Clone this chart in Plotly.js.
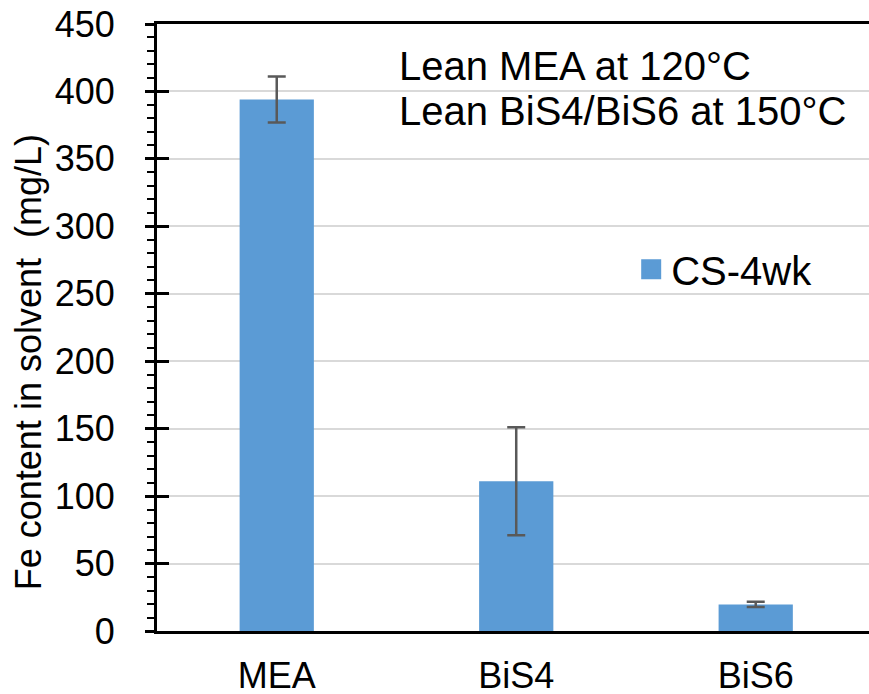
<!DOCTYPE html>
<html>
<head>
<meta charset="utf-8">
<script src="https://cdn.plot.ly/plotly-3.0.1.min.js"></script>
<style>html,body{margin:0;padding:0;background:#fff;}#chart{width:869px;height:694px;}</style>
</head>
<body>
<div id="chart"></div>
<script>
const categories = ["MEA", "BiS4", "BiS6"];
const values = [394, 111, 19.7];
const errors = [17, 40, 2];
const seriesName = "CS-4wk";
const yTicks = [0, 50, 100, 150, 200, 250, 300, 350, 400, 450];
const yTitle = "Fe content in solvent  (mg/L)";
const noteLines = ["Lean MEA at 120°C", "Lean BiS4/BiS6 at 150°C"];

const FONT = "Liberation Sans, Arial, sans-serif";
const barColor = "#5b9bd5";

const traces = [
  {
    type: "bar",
    x: categories,
    y: values,
    width: 0.31,
    name: seriesName,
    showlegend: false,
    marker: {color: barColor},
    error_y: {type: "data", array: errors, visible: true, color: "#595959", thickness: 2.5, width: 9},
    hoverinfo: "x+y"
  },
  {
    type: "scatter",
    mode: "markers",
    x: [null],
    y: [null],
    name: seriesName,
    showlegend: true,
    marker: {symbol: "square", size: 16, color: barColor, line: {color: barColor, width: 4}}
  }
];

const layout = {
  width: 869,
  height: 694,
  margin: {l: 157, r: 0, t: 24, b: 63, pad: 0},
  paper_bgcolor: "#ffffff",
  plot_bgcolor: "#ffffff",
  font: {family: FONT, size: 36, color: "#000000"},
  bargap: 0.69,
  xaxis: {
    type: "category",
    range: [-0.5, 2.473],
    showline: true,
    linecolor: "#000000",
    linewidth: 3,
    mirror: true,
    ticks: "",
    showgrid: false,
    zeroline: false,
    tickfont: {family: FONT, size: 36, color: "#000000"},
    ticklabelstandoff: 11
  },
  yaxis: {
    range: [0, 450],
    tickvals: yTicks,
    ticktext: yTicks.map(String),
    showline: true,
    linecolor: "#000000",
    linewidth: 3,
    ticks: "outside",
    ticklen: 9,
    tickwidth: 3,
    tickcolor: "#000000",
    showgrid: true,
    gridcolor: "#d9d9d9",
    gridwidth: 2,
    zeroline: false,
    tickfont: {family: FONT, size: 36, color: "#000000"},
    ticklabelstandoff: 23,
    minor: {dtick: 10, ticks: "outside", ticklen: 7, tickwidth: 2, tickcolor: "#000000", showgrid: false}
  },
  yaxis2: {
    overlaying: "y",
    range: [0, 450],
    tickvals: yTicks,
    showticklabels: false,
    ticks: "inside",
    ticklen: 12,
    tickwidth: 3,
    tickcolor: "#000000",
    showgrid: false,
    showline: false,
    zeroline: false
  },
  showlegend: true,
  legend: {
    x: 0.666,
    xanchor: "left",
    y: 0.596,
    yanchor: "middle",
    bgcolor: "rgba(0,0,0,0)",
    borderwidth: 0,
    font: {family: FONT, size: 40, color: "#000000"}
  },
  annotations: [
    {
      xref: "paper", yref: "paper", x: 0.337, y: 0.9308,
      xanchor: "left", yanchor: "middle", showarrow: false,
      text: noteLines[0], font: {family: FONT, size: 40, color: "#000000"}
    },
    {
      xref: "paper", yref: "paper", x: 0.337, y: 0.8567,
      xanchor: "left", yanchor: "middle", showarrow: false,
      text: noteLines[1], font: {family: FONT, size: 40, color: "#000000"}
    },
    {
      xref: "paper", yref: "paper", x: -0.181, y: 0.443,
      xanchor: "center", yanchor: "middle", showarrow: false, textangle: -90,
      text: yTitle, font: {family: FONT, size: 36, color: "#000000"}
    }
  ]
};

// invisible trace to activate yaxis2 tick marks
traces.push({type: "scatter", x: [null], y: [null], yaxis: "y2", showlegend: false, hoverinfo: "skip"});

Plotly.newPlot("chart", traces, layout, {displayModeBar: false, staticPlot: true});
</script>
</body>
</html>
